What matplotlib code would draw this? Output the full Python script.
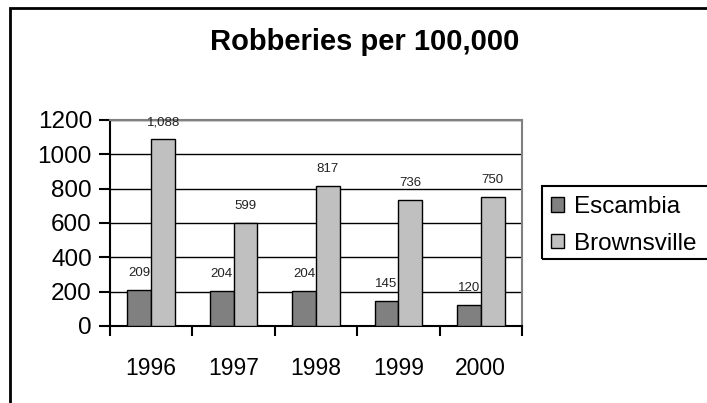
import numpy as np
import matplotlib
matplotlib.use("Agg")
import matplotlib.pyplot as plt
from matplotlib.patches import Rectangle

plt.rcParams['font.family'] = ['Liberation Sans', 'DejaVu Sans']

years = ["1996", "1997", "1998", "1999", "2000"]
escambia = [209, 204, 204, 145, 120]
brownsville = [1088, 599, 817, 736, 750]
escambia_labels = ["209", "204", "204", "145", "120"]
brownsville_labels = ["1,088", "599", "817", "736", "750"]

fig = plt.figure(figsize=(7.07, 4.03), dpi=100)
ax = fig.add_axes([110/707, 1 - 326/403, 412/707, 206/403])

x = np.arange(len(years))
w = 0.29
b1 = ax.bar(x - w/2, escambia, w, color="#808080", edgecolor="black", linewidth=1, label="Escambia", zorder=3)
b2 = ax.bar(x + w/2, brownsville, w, color="#c0c0c0", edgecolor="black", linewidth=1, label="Brownsville", zorder=3)

for bars, labs in ((b1, escambia_labels), (b2, brownsville_labels)):
    for r, t in zip(bars, labs):
        ax.annotate(t, (r.get_x() + r.get_width()/2, r.get_height()),
                    xytext=(0, 8), textcoords="offset points",
                    ha="center", va="bottom", fontsize=9.5, color="#222222", zorder=4)

ax.set_xlim(-0.5, len(years) - 0.5)
ax.set_ylim(0, 1200)
ax.set_yticks(np.arange(0, 1201, 200))
ax.yaxis.grid(True, color="black", linewidth=1)
ax.set_axisbelow(True)

# boundary ticks between years, labels sit at centres
ax.set_xticks(np.arange(-0.5, len(years), 1))
ax.set_xticklabels([])
ax.set_xticks(x, minor=True)
ax.set_xticklabels(years, minor=True)
ax.tick_params(axis="x", which="major", direction="out", length=7, width=1.5)
ax.tick_params(axis="x", which="minor", length=0, pad=22, labelsize=16.5)
ax.tick_params(axis="y", direction="out", length=8, width=1.5, pad=5, labelsize=17.5)

for s in ("left", "bottom"):
    ax.spines[s].set_color("black")
    ax.spines[s].set_linewidth(1.5)
for s in ("top", "right"):
    ax.spines[s].set_color("#808080")
    ax.spines[s].set_linewidth(1.5)

fig.text(365/707, 1 - 42/403, "Robberies per 100,000", ha="center", va="center",
         fontsize=21, fontweight="bold")

# legend without its own frame; the box runs off the right edge
leg = fig.legend(loc="upper left", bbox_to_anchor=(551/707, 1 - 196/403),
                 fontsize=17.5, frameon=False, borderpad=0,
                 handlelength=0.55, handleheight=0.55, handletextpad=0.4,
                 labelspacing=0.6, borderaxespad=0)
fig.patches.append(Rectangle((542/707, 1 - 259/403), 0.5, 73/403, transform=fig.transFigure,
                             fill=False, edgecolor="black", linewidth=1.5))

fig.patches.append(Rectangle((10/707, -0.1), 1.2, 1 - 8/403 + 0.1, transform=fig.transFigure,
                             fill=False, edgecolor="black", linewidth=2))

fig.savefig("out.png", dpi=100)
